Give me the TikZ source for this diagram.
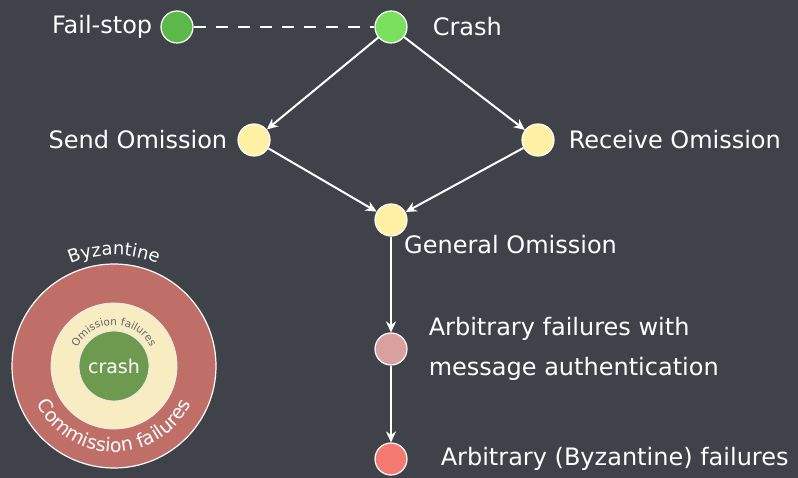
\documentclass[tikz,border=0pt]{standalone}
\usepackage{fontspec}
\setmainfont{DejaVu Sans}
\usetikzlibrary{
	positioning,
	arrows.meta,
	decorations.text
}
\definecolor{board}{HTML}{3F4349}
\definecolor{stopgreen}{HTML}{5DB84A}
\definecolor{crashgreen}{HTML}{7BE05E}
\definecolor{omityellow}{HTML}{FFF0A3}
\definecolor{authpink}{HTML}{D9A0A0}
\definecolor{byzred}{HTML}{F47A72}
\definecolor{ringred}{HTML}{BF6E68}
\definecolor{ringyellow}{HTML}{F8EDC2}
\definecolor{ringgreen}{HTML}{6E9A50}
\tikzset{
	fault/.style={
		circle,
		draw=white,
		line width=1.2pt,
		minimum size=32pt,
		inner sep=0pt
	},
	faultlabel/.style={
		text=white,
		inner sep=0pt,
		font=\fontsize{24}{40}\selectfont
	},
	implies/.style={
		draw=white,
		line width=2pt,
		-{Stealth[length=11pt,width=10pt]}
	},
	ringtext/.style={
		decorate,
		decoration={text along path, text align=center, text={#1}}
	}
}

\begin{document}
\begin{tikzpicture}[x=1pt, y=1pt] %%%%%%%% failure models
	\fill[board] (0,0) rectangle (798,-478);
	\useasboundingbox (0,0) rectangle (798,-478);

	\node[fault, fill=stopgreen] (failstop) at (177,-27) {};
	\node[fault, fill=crashgreen] (crash) at (391,-27) {};
	\node[fault, fill=omityellow] (send) at (254,-140) {};
	\node[fault, fill=omityellow] (receive) at (538,-140) {};
	\node[fault, fill=omityellow] (general) at (391,-220) {};
	\node[fault, fill=authpink] (auth) at (391,-349) {};
	\node[fault, fill=byzred] (byz) at (391,-459) {};

	\node[faultlabel, left=8pt of failstop] (failstoplabel) {Fail-stop};
	\node[faultlabel, right=25pt of crash] (crashlabel) {Crash};
	\node[faultlabel, left=10pt of send] (sendlabel) {Send Omission};
	\node[faultlabel, right=14pt of receive] (receivelabel) {Receive Omission};
	\node[faultlabel, anchor=west] (generallabel) at (404,-245) {General Omission};
	\node[faultlabel, right=21pt of auth, align=left] (authlabel) {Arbitrary failures with\\message authentication};
	\node[faultlabel, right=33pt of byz] (byzlabel) {Arbitrary (Byzantine) failures};

	\draw[white, line width=2pt, dash pattern=on 12pt off 10pt] (failstop) -- (crash);
	\draw[implies] (crash) -- (send);
	\draw[implies] (crash) -- (receive);
	\draw[implies] (send) -- (general);
	\draw[implies] (receive) -- (general);
	\draw[implies] (general) -- (auth);
	\draw[implies] (auth) -- (byz);

	% nested circles
	\coordinate (rings) at (114,-366);
	\fill[ringred, draw=white, line width=1.2pt] (rings) circle[radius=102];
	\fill[ringyellow, draw=white!85!gray, line width=0.8pt] (rings) circle[radius=63];
	\node[circle, fill=ringgreen, draw=white!85!gray, line width=0.8pt, minimum size=70pt, inner sep=0pt,
		text=white, font=\fontsize{19}{19}\selectfont] (crashring) at (rings) {crash};
	\path[ringtext={|\fontsize{19}{19}\selectfont\color{white}|Commission failures}]
		(rings) ++(198:86) arc[start angle=198, end angle=342, radius=86];
	\path[ringtext={|\fontsize{18}{18}\selectfont\color{white}|Byzantine}]
		(rings) ++(125:111) arc[start angle=125, end angle=55, radius=111];
	\path[ringtext={|\fontsize{10.5}{10.5}\selectfont\color{black!60}|Omission failures}]
		(rings) ++(155:41) arc[start angle=155, end angle=25, radius=41];
\end{tikzpicture}
\end{document}
